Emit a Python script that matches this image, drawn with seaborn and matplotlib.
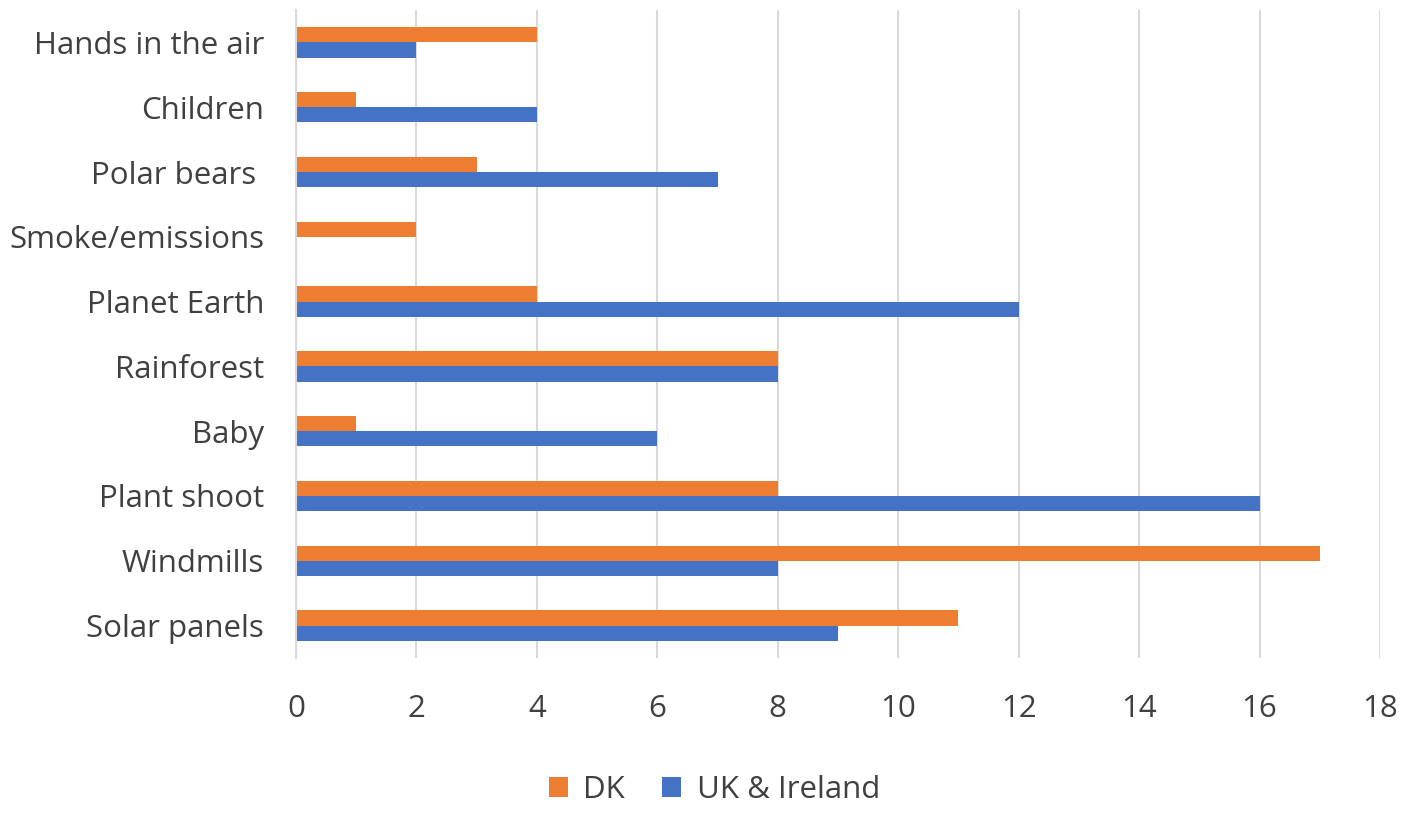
import pandas as pd
import seaborn as sns
import matplotlib.pyplot as plt

categories = ["Hands in the air", "Children", "Polar bears ", "Smoke/emissions", "Planet Earth",
              "Rainforest", "Baby", "Plant shoot", "Windmills", "Solar panels"]
dk = [4, 1, 3, 2, 4, 8, 1, 8, 17, 11]
uk = [2, 4, 7, 0, 12, 8, 6, 16, 8, 9]
series = ["DK", "UK & Ireland"]
colors = ["#ED7D31", "#4472C4"]

df = pd.DataFrame({"category": categories * 2,
                   "value": dk + uk,
                   "series": [series[0]] * len(dk) + [series[1]] * len(uk)})

sns.set_theme(style="white")
plt.rcParams['font.family'] = ['Open Sans', 'DejaVu Sans']

fig = plt.figure(figsize=(14.06, 8.18), dpi=100)
ax = fig.add_axes([296 / 1406, 1 - 658 / 818, (1380 - 296) / 1406, (658 - 10) / 818])
sns.barplot(data=df, x="value", y="category", hue="series", orient="h",
            palette=colors, width=0.47, gap=0, saturation=1, linewidth=0,
            ax=ax, legend=True)

ax.set_xlim(0, 18)
ax.set_xticks(range(0, 19, 2))
ax.set_ylim(len(categories) - 0.5, -0.5)
ax.grid(axis="x", color="#D9D9D9", linewidth=1.5)
ax.set_axisbelow(True)
for s in ["top", "right", "bottom"]:
    ax.spines[s].set_visible(False)
ax.spines["left"].set_color("#D9D9D9")
ax.spines["left"].set_linewidth(1.5)
ax.tick_params(axis="both", length=0, labelsize=22.5, colors="#404040")
ax.tick_params(axis="y", pad=23)
ax.tick_params(axis="x", pad=26)
ax.set_xlabel("")
ax.set_ylabel("")

ax.legend(loc="upper center", bbox_to_anchor=(0.386, -0.137), ncol=2, frameon=False,
          fontsize=22.5, handlelength=0.6, handleheight=0.6, columnspacing=1.2,
          handletextpad=0.5, labelcolor="#404040")

fig.savefig("out.png", dpi=100)
